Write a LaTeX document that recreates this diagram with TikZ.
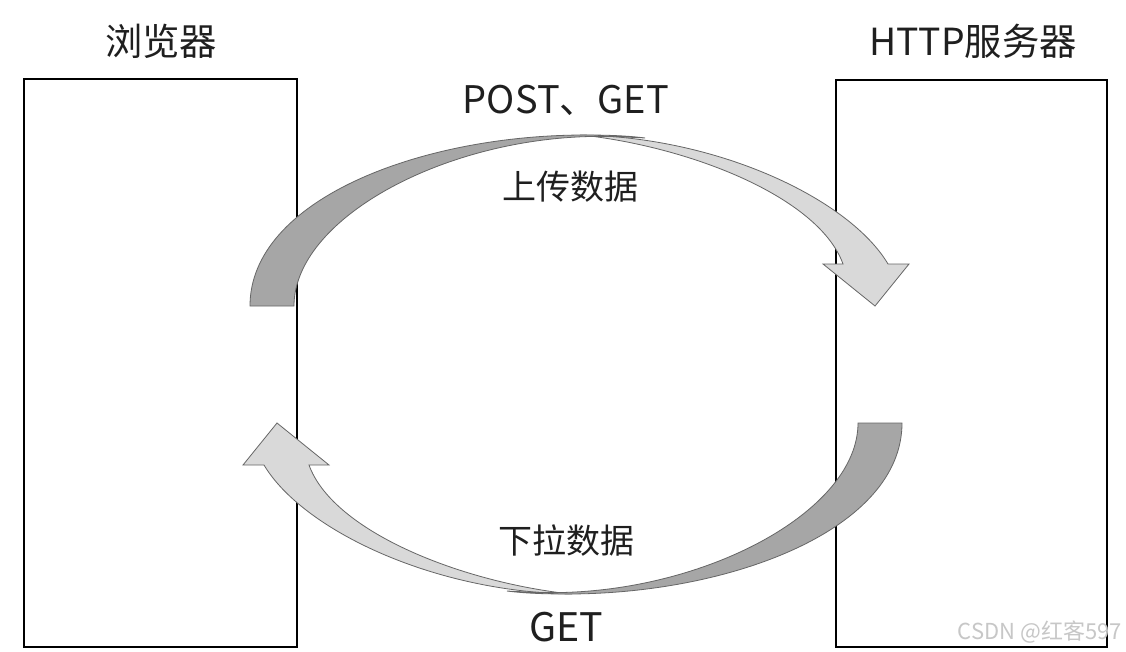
\documentclass[tikz,border=0pt]{standalone}
\usepackage{fontspec}
\setmainfont{Noto Sans CJK SC}
\begin{document}
\begin{tikzpicture}[x=0.75pt,y=-0.75pt,
  boxst/.style={draw=black,line width=1.6pt},
  titlest/.style={font=\fontsize{28}{30}\selectfont,text=black!88,inner sep=0pt},
  labelst/.style={font=\fontsize{25.5}{28}\selectfont,text=black!88,inner sep=0pt},
  latinst/.style={font=\fontsize{28.5}{30}\selectfont,text=black!88,inner sep=0pt},
  darkpart/.style={fill=black!35,draw=black!60,line width=0.6pt},
  lightpart/.style={fill=black!15,draw=black!60,line width=0.6pt,line join=miter}]
\def\twistarrow{%
    \draw[lightpart] (580,135) .. controls (720,137) and (850,200) .. (888,264)
      -- (909,264) -- (875,306) -- (823,264) -- (843,264)
      .. controls (820,200) and (700,150) .. (590,136) -- cycle;
    \draw[darkpart] (250,306) .. controls (250,200) and (420,135) .. (585,135)
      .. controls (610,135) and (630,136) .. (645,138)
      .. controls (625,137) and (605,136) .. (590,136.5)
      .. controls (440,140) and (294,220) .. (294,306) -- cycle;
}
\useasboundingbox (0,0) rectangle (1126,652);
\fill[white] (0,0) rectangle (1126,652);
\draw[boxst] (24,79) rectangle (297,647);
\draw[boxst] (836,80) rectangle (1107,647);
\node[titlest] (browser) at (161,41) {浏览器};
\node[titlest] (server) at (973,41) {HTTP服务器};
\node[latinst] (postget) at (566,100) {POST、GET};
\node[labelst] (upload) at (570,187) {上传数据};
\node[labelst] (download) at (566,541) {下拉数据};
\node[latinst,font=\fontsize{29.5}{31}\selectfont] (get) at (566,627) {GET};
\twistarrow
\begin{scope}[shift={(1152,729)},rotate=180]
  \twistarrow
\end{scope}
\node[font=\fontsize{16.5}{18}\selectfont,text=black!22,anchor=east,inner sep=0pt] (mark) at (1122,632) {CSDN @红客597};
\end{tikzpicture}
\end{document}
